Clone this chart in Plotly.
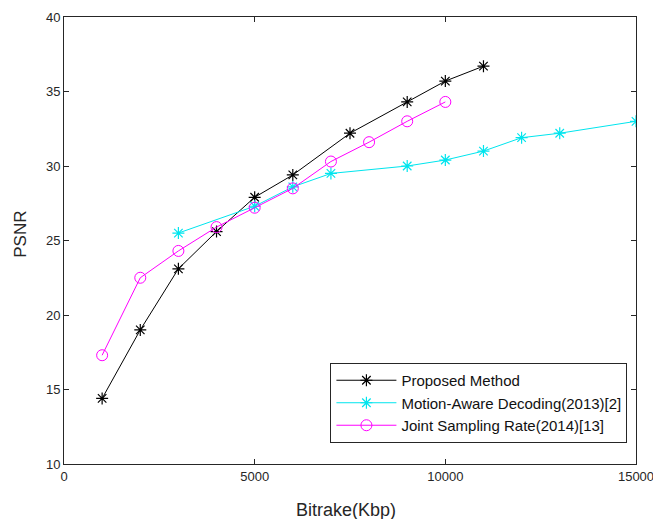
import plotly.graph_objects as go

# Data
proposed_x = [1000, 2000, 3000, 4000, 5000, 6000, 7500, 9000, 10000, 11000]
proposed_y = [14.4, 19.0, 23.1, 25.6, 27.9, 29.4, 32.2, 34.3, 35.7, 36.7]

motion_x = [3000, 5000, 6000, 7000, 9000, 10000, 11000, 12000, 13000, 15000]
motion_y = [25.5, 27.3, 28.6, 29.5, 30.0, 30.4, 31.0, 31.9, 32.2, 33.0]

joint_x = [1000, 2000, 3000, 4000, 5000, 6000, 7000, 8000, 9000, 10000]
joint_y = [17.3, 22.5, 24.3, 25.9, 27.2, 28.5, 30.3, 31.6, 33.0, 34.3]

names = ["Proposed Method", "Motion-Aware Decoding(2013)[2]", "Joint Sampling Rate(2014)[13]"]

x_ticks = [0, 5000, 10000, 15000]
y_ticks = [10, 15, 20, 25, 30, 35, 40]

FONT = "Liberation Sans, Arial, sans-serif"
AX = "#262626"

fig = go.Figure()
fig.add_trace(go.Scatter(
    x=proposed_x, y=proposed_y, name=names[0], mode="lines+markers",
    line=dict(color="black", width=1),
    marker=dict(symbol="asterisk-open", size=10, color="black", line=dict(width=1.2, color="black")),
))
fig.add_trace(go.Scatter(
    x=motion_x, y=motion_y, name=names[1], mode="lines+markers",
    line=dict(color="#00e5ee", width=1),
    marker=dict(symbol="asterisk-open", size=10, color="#00e5ee", line=dict(width=1.2, color="#00e5ee")),
))
fig.add_trace(go.Scatter(
    x=joint_x, y=joint_y, name=names[2], mode="lines+markers",
    line=dict(color="#ff00ff", width=1),
    marker=dict(symbol="circle-open", size=11, color="#ff00ff", line=dict(width=1, color="#ff00ff")),
))

fig.update_layout(
    width=653, height=519,
    margin=dict(l=64, r=17, t=17, b=55, autoexpand=False),
    paper_bgcolor="white", plot_bgcolor="white",
    font=dict(family=FONT, size=13, color=AX),
    showlegend=True,
    legend=dict(
        x=0.985, y=0.047, xanchor="right", yanchor="bottom",
        bgcolor="white", bordercolor=AX, borderwidth=1,
        font=dict(family=FONT, size=15, color="#111"),
        tracegroupgap=0, itemwidth=60,
    ),
    xaxis=dict(
        range=[0, 15000], tickvals=x_ticks, ticktext=[str(v) for v in x_ticks],
        ticklabeloverflow="allow", automargin=False,
        showgrid=False, zeroline=False, showline=True, linecolor=AX, linewidth=1,
        mirror="ticks", ticks="inside", ticklen=5, tickcolor=AX,
    ),
    yaxis=dict(
        range=[10, 40], tickvals=y_ticks, automargin=False,
        showgrid=False, zeroline=False, showline=True, linecolor=AX, linewidth=1,
        mirror="ticks", ticks="inside", ticklen=5, tickcolor=AX,
    ),
    annotations=[
        dict(text="Bitrake(Kbp)", xref="paper", yref="paper", x=0.493, y=-0.103,
             xanchor="center", yanchor="middle", showarrow=False,
             font=dict(family=FONT, size=18, color=AX)),
        dict(text="PSNR", xref="paper", yref="paper", x=-0.075, y=0.513, textangle=-90,
             xanchor="center", yanchor="middle", showarrow=False,
             font=dict(family=FONT, size=17, color=AX)),
    ],
)

fig.write_html("out.html")
